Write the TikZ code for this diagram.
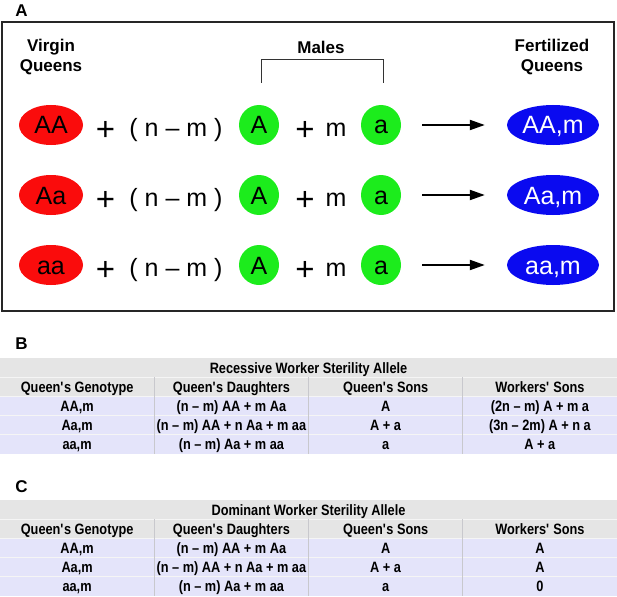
\documentclass[tikz,border=0pt]{standalone}
\usepackage{fontspec}
\setmainfont{Liberation Sans}
\newfontfamily\narrowsans[FakeStretch=0.85]{Liberation Sans}
\usetikzlibrary{shapes.geometric,arrows.meta}
\definecolor{queenred}{RGB}{250,12,12}
\definecolor{malegreen}{RGB}{28,236,28}
\definecolor{fertblue}{RGB}{10,10,240}
\definecolor{headgray}{RGB}{229,229,229}
\definecolor{rowblue}{RGB}{228,228,250}
\definecolor{colline}{RGB}{200,200,205}
\tikzset{
    panel/.style={font=\fontsize{17}{20}\selectfont\bfseries, inner sep=0pt},
    heading/.style={panel, align=center},
    term/.style={font=\fontsize{25}{30}\selectfont, inner sep=0pt, anchor=base},
    plus/.style={term, font=\fontsize{33}{36}\selectfont},
    allele/.style={inner sep=0pt, text height=18pt, text depth=0pt,
        font=\fontsize{25}{30}\selectfont},
    queen/.style={allele, ellipse, fill=queenred, minimum width=64pt, minimum height=40pt},
    male/.style={allele, circle, fill=malegreen, minimum size=40pt},
    fert/.style={allele, ellipse, fill=fertblue, text=white, minimum width=92pt, minimum height=40pt},
    arrow/.style={line width=2pt, -{Triangle[length=15pt,width=10pt]}},
    bracket/.style={gray!40!black, line width=0.9pt},
    tabcell/.style={font=\narrowsans\bfseries\fontsize{15}{18}\selectfont,
        inner sep=0pt, text height=11pt, text depth=0pt}
}
\newcommand{\sterilitytable}[4]{
    \fill[headgray] (0,#2) rectangle (617,#2+38.4);
    \fill[rowblue] (0,#2+38.4) rectangle (617,#2+96);
    \foreach \k in {1,...,4}
        \draw[white!92!gray, line width=0.8pt] (0,#2+19.2*\k) -- (617,#2+19.2*\k);
    \foreach \c in {1,2,3}
        \draw[colline, line width=0.8pt] (154.25*\c,#2+19.2) -- (154.25*\c,#2+96);
    \node[tabcell] (#1title) at (308.5,#2+9.6) {#3};
    \foreach \h [count=\c] in {Queen\textquotesingle s Genotype, Queen\textquotesingle s Daughters,
            Queen\textquotesingle s Sons, Workers\textquotesingle{} Sons}
        \node[tabcell] (#1h\c) at (154.25*\c-77.1,#2+28.8) {\h};
    \foreach \g/\d/\q/\w [count=\r] in {#4} {
        \pgfmathsetmacro{\y}{#2+28.8+19.2*\r}
        \node[tabcell] (#1\r g) at (77.1,\y) {\g};
        \node[tabcell] (#1\r d) at (231.4,\y) {\d};
        \node[tabcell] (#1\r q) at (385.6,\y) {\q};
        \node[tabcell] (#1\r w) at (539.9,\y) {\w};
    }
}

\begin{document}
\begin{tikzpicture}[x=1pt, y=-1pt]
    \useasboundingbox (0,0) rectangle (617,596);

    % Panel A: matings
    \node[panel] (labA) at (21.5,10.5) {A};
    \draw[gray!30!black, line width=1.5pt] (2,22) rectangle (614,311);
    \node[heading] (virgin) at (51,57) {Virgin\\Queens};
    \node[panel] (males) at (321,47) {Males};
    \node[heading] (fertilized) at (552,57) {Fertilized\\Queens};

    \foreach \g [count=\r] in {AA,Aa,aa} {
        \pgfmathsetmacro{\y}{55+70*\r}
        \node[queen] (q\r) at (51,\y) {\g};
        \node[plus] (pa\r) at (105.5,\y+15) {+};
        \node[term] (nm\r) at (176,\y+11) {( n – m )};
        \node[male] (ma\r) at (259,\y) {A};
        \node[plus] (pb\r) at (305,\y+15) {+};
        \node[term] (m\r) at (336,\y+11) {m};
        \node[male] (mb\r) at (381,\y) {a};
        \node[fert] (fq\r) at (553,\y) {\g,m};
        \draw[arrow] ([xshift=21pt]mb\r.east) -- ([xshift=-22pt]fq\r.west);
    }

    % bracket over the males
    \coordinate (brtop) at (0,59);
    \coordinate (brfoot) at (0,83);
    \draw[bracket] ([xshift=2pt]ma1 |- brfoot) -- ([xshift=2pt]ma1 |- brtop)
        -- ([xshift=2pt]mb1 |- brtop) -- ([xshift=2pt]mb1 |- brfoot);

    % Panel B and C: tables
    \node[panel] (labB) at (21.5,344) {B};
    \sterilitytable{b}{358}{Recessive Worker Sterility Allele}{
        {AA,m}/{(n – m) AA + m Aa}/A/{(2n – m) A + m a},
        {Aa,m}/{(n – m) AA + n Aa + m aa}/A + a/{(3n – 2m) A + n a},
        {aa,m}/{(n – m) Aa + m aa}/a/A + a}
    \node[panel] (labC) at (21.5,487) {C};
    \sterilitytable{c}{500}{Dominant Worker Sterility Allele}{
        {AA,m}/{(n – m) AA + m Aa}/A/A,
        {Aa,m}/{(n – m) AA + n Aa + m aa}/A + a/A,
        {aa,m}/{(n – m) Aa + m aa}/a/0}
\end{tikzpicture}
\end{document}
